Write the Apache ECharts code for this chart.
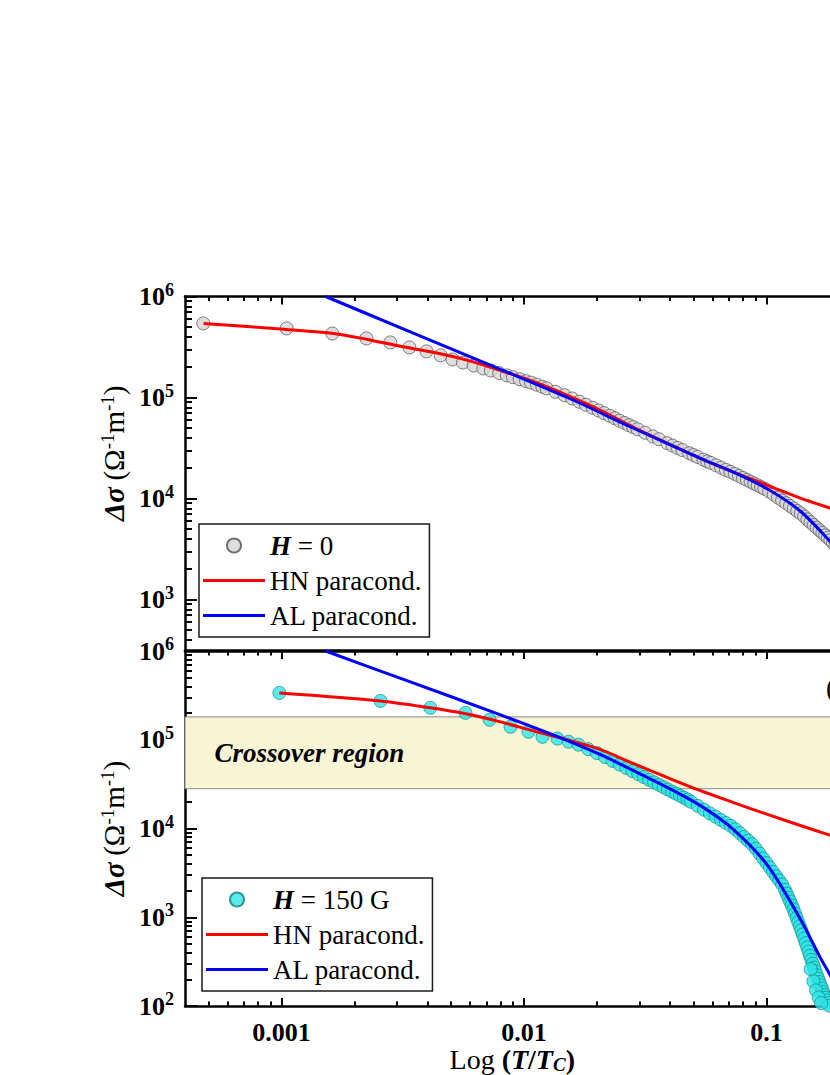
<!DOCTYPE html>
<html><head><meta charset="utf-8">
<script src="https://cdn.jsdelivr.net/npm/echarts@6/dist/echarts.min.js"></script>
<style>html,body{margin:0;padding:0;overflow:hidden;background:#fff}#c{width:900px;height:1075px}</style>
</head><body><div id="c"></div><script>
// ---------- data ----------
// top panel, H = 0
const topDataT = [0.000476,0.00105,0.00162,0.00224,0.00281,0.00337,0.00396,0.00453,0.00507,
 0.0056,0.0062,0.0068,0.0073,0.0079,0.0085,0.009,0.0096,0.0102,0.0107,0.0113,0.0119,0.0124,
 0.0135,0.0147,0.0158,0.0169,0.018,0.0192,0.0203,0.0214,0.0226,0.0237,0.0248,0.026,0.0271,0.0282,0.0294,
 0.0316,0.034,0.036,0.039,0.041,0.043,0.045,0.048,0.05,0.052,0.055,0.057,0.059,
 0.062,0.065,0.068,0.071,0.074,0.077,0.08,0.083,0.086,0.089,0.092,0.095,0.098,
 0.1025,0.107,0.1115,0.116,0.1205,0.125,0.1295,0.134,0.1385,0.143,0.1475,0.152,0.1565,0.161,0.1655,0.17,0.1745,0.179,0.1835,0.188,0.1925,0.197];
const topDataS = [5.41e5,4.83e5,4.30e5,3.85e5,3.51e5,3.13e5,2.86e5,2.61e5,2.38e5,
 2.22e5,2.07e5,1.94e5,1.85e5,1.745e5,1.655e5,1.589e5,1.516e5,1.452e5,1.403e5,1.340e5,1.278e5,1.231e5,
 1.139e5,1.053e5,9.78e4,9.09e4,8.48e4,7.91e4,7.44e4,7.01e4,6.58e4,6.23e4,5.90e4,5.59e4,5.32e4,5.09e4,4.85e4,
 4.47e4,4.12e4,3.86e4,3.53e4,3.34e4,3.17e4,3.02e4,2.81e4,2.69e4,2.58e4,2.42e4,2.33e4,2.25e4,
 2.13e4,2.02e4,1.92e4,1.835e4,1.752e4,1.671e4,1.596e4,1.527e4,1.464e4,1.405e4,1.350e4,1.299e4,1.252e4,
 1.177e4,1.096e4,1.023e4,9.57e3,8.98e3,8.45e3,7.96e3,7.52e3,7.11e3,6.64e3,6.21e3,5.82e3,5.46e3,5.14e3,4.84e3,4.57e3,4.32e3,4.09e3,3.87e3,3.63e3,3.40e3,3.20e3];
const redTopT = [0.000477,0.00105,0.00164,0.00226,0.0031,0.00423,0.00585,0.008,0.0109,0.0151,0.0207,0.0283,0.0391,0.0534,0.0731,0.101,0.138,0.184,0.2];
const redTopS = [5.41e5,4.72e5,4.31e5,3.76e5,3.21e5,2.80e5,2.33e5,1.85e5,1.44e5,1.05e5,7.46e4,5.07e4,3.52e4,2.50e4,1.82e4,1.35e4,1.01e4,8.0e3,7.5e3];
const blueTopT = [0.00152,0.0031,0.008,0.0151,0.0283,0.0534,0.0731,0.101,0.138,0.184,0.2];
const blueTopS = [1e6,4.9e5,1.9e5,1.0e5,4.96e4,2.5e4,1.82e4,1.24e4,7.48e3,3.70e3,2.9e3];
// bottom panel, H = 150 G
const botDataT = [0.00098,0.00256,0.00411,0.00574,0.00721,0.0088,0.01044,0.01192,0.01374,0.01527,0.01678,
 0.0184,0.02,0.0216,0.0232,0.0248,0.0264,0.028,0.0296,0.0312,0.0328,0.0344,0.036,0.0376,0.0392,0.0408,0.0424,0.044,0.0456,0.0472,0.0488,
 0.052,0.0552,0.0584,0.0616,0.0648,0.068,0.0712,0.0744,0.0776,0.0808,0.084,0.0872,0.0904,0.0936,0.0968,0.1,0.1032,0.1064,0.1096,0.1128,0.116,0.1192,
 0.1212,0.1232,0.1252,0.1272,0.1292,0.1312,0.1332,0.1352,0.1372,0.1392,0.1412,0.1432,0.1452,0.1472,0.1492,0.1512,0.1532,0.1552,0.1572,0.1592,0.1612,0.1632,0.1652,0.1672,0.1692,0.1712,0.1732,0.1752,0.1772,0.1792,0.1812,
 0.152,0.156,0.160,0.164,0.168];
const botDataS = [3.37e5,2.74e5,2.29e5,2.01e5,1.68e5,1.40e5,1.23e5,1.08e5,1.03e5,9.5e4,8.8e4,
 7.84e4,7.07e4,6.38e4,5.77e4,5.25e4,4.81e4,4.43e4,4.10e4,3.80e4,3.54e4,3.31e4,3.11e4,2.92e4,2.75e4,2.60e4,2.47e4,2.34e4,2.23e4,2.12e4,2.00e4,
 1.80e4,1.63e4,1.48e4,1.36e4,1.25e4,1.155e4,1.071e4,9.82e3,8.86e3,8.03e3,7.30e3,6.66e3,5.93e3,5.21e3,4.60e3,4.08e3,3.63e3,3.24e3,2.90e3,2.60e3,2.34e3,2.04e3,
 1.84e3,1.66e3,1.50e3,1.36e3,1.23e3,1.10e3,984,881,791,712,641,575,512,458,410,368,331,300,271,246,223,203,186,171,157,144,133,124,116,108,101,
 260,190,150,125,108];
const redBotT = [0.00098,0.00256,0.00411,0.00574,0.008,0.0109,0.0151,0.0207,0.0283,0.0391,0.0534,0.0731,0.101,0.138,0.184,0.2];
const redBotS = [3.37e5,2.74e5,2.29e5,1.96e5,1.59e5,1.26e5,1.0e5,7.73e4,5.37e4,3.74e4,2.67e4,1.96e4,1.44e4,1.08e4,8.34e3,7.72e3];
const blueBotT = [0.00152,0.0031,0.008,0.0151,0.0207,0.0283,0.0391,0.0534,0.0731,0.101,0.138,0.1654,0.184,0.2];
const blueBotS = [1e6,4.91e5,1.91e5,9.8e4,6.78e4,4.48e4,2.89e4,1.81e4,9.74e3,3.84e3,949,365,217,144];
// crossover band limits
const crossover = [1.81e5, 2.81e4];
// ticks
const xMajor = [0.001, 0.01, 0.1];
const xTickLabels = ['0.001', '0.01', '0.1'];
const xMinor = [0.0005,0.0006,0.0007,0.0008,0.0009,0.002,0.003,0.004,0.005,0.006,0.007,0.008,0.009,
                0.02,0.03,0.04,0.05,0.06,0.07,0.08,0.09];
const yTopMajor = [1e3, 1e4, 1e5, 1e6];
const yTopMinor = [400,500,600,700,800,900,2e3,3e3,4e3,5e3,6e3,7e3,8e3,9e3,
                   2e4,3e4,4e4,5e4,6e4,7e4,8e4,9e4,2e5,3e5,4e5,5e5,6e5,7e5,8e5,9e5];
const yBotMajor = [1e2, 1e3, 1e4, 1e5, 1e6];
const yBotMinor = [200,300,400,500,600,700,800,900,2e3,3e3,4e3,5e3,6e3,7e3,8e3,9e3,
                   2e4,3e4,4e4,5e4,6e4,7e4,8e4,9e4,2e5,3e5,4e5,5e5,6e5,7e5,8e5,9e5];
const yTickLabels = {100:'2', 1000:'3', 10000:'4', 100000:'5', 1000000:'6'};

// ---------- chart ----------
const FONT = '"Liberation Serif", "Times New Roman", serif';
const X_MIN = 0.0004, X_MAX = 0.2;
const pair = (t, s) => t.map((v, i) => [v, s[i]]);

const chart = echarts.init(document.getElementById('c'), null, {renderer: 'svg'});

const lineBlk = {color: '#000', width: 2.5};
function xAx(grid, pos, ticks, len, showLine, labels, name) {
  const a = {
    type: 'log', logBase: 10, gridIndex: grid, position: pos, min: X_MIN, max: X_MAX,
    axisLine: {show: showLine, lineStyle: lineBlk},
    axisTick: ticks ? {show: true, inside: true, length: len, customValues: ticks, lineStyle: {color: '#000', width: 2}} : {show: false},
    axisLabel: {show: false},
    splitLine: {show: false}, minorTick: {show: false}, minorSplitLine: {show: false}
  };
  if (labels) {
    a.axisLabel = {
      show: true, customValues: xMajor, margin: 13,
      formatter: v => xTickLabels[xMajor.indexOf(v)] ?? '',
      fontFamily: FONT, fontWeight: 'bold', fontSize: 26, color: '#000'
    };
  }
  if (name) {
    a.name = '{r|Log }{b|(}{bi|T}{b|/}{bi|T}{sub|C}{b|)}';
    a.nameLocation = 'middle';
    a.nameGap = 29;
    a.nameTextStyle = {
      rich: {
        r: {fontFamily: FONT, fontSize: 28, lineHeight: 29, color: '#000'},
        b: {fontFamily: FONT, fontSize: 28, fontWeight: 'bold', lineHeight: 29, color: '#000'},
        bi: {fontFamily: FONT, fontSize: 28, fontWeight: 'bold', fontStyle: 'italic', lineHeight: 29, color: '#000'},
        sub: {fontFamily: FONT, fontSize: 19, fontWeight: 'bold', fontStyle: 'italic', lineHeight: 17, verticalAlign: 'bottom', color: '#000'}
      }
    };
  }
  return a;
}
function yAx(grid, min, ticks, len, major, namePad) {
  const a = {
    type: 'log', logBase: 10, gridIndex: grid, position: 'left', min: min, max: 1e6,
    axisLine: {show: major, lineStyle: lineBlk},
    axisTick: {show: true, inside: true, length: len, customValues: ticks, lineStyle: {color: '#000', width: 2}},
    axisLabel: {show: false},
    splitLine: {show: false}, minorTick: {show: false}, minorSplitLine: {show: false}
  };
  if (major) {
    a.axisLabel = {
      show: true, customValues: ticks, margin: 11,
      formatter: v => '{b|10}{s|' + (yTickLabels[Math.round(v)] ?? '') + '}',
      rich: {
        b: {fontFamily: FONT, fontWeight: 'bold', fontSize: 26, lineHeight: 32, color: '#000'},
        s: {fontFamily: FONT, fontWeight: 'bold', fontSize: 18, lineHeight: 18, verticalAlign: 'top', color: '#000'}
      }
    };
    a.name = '{bi|Δσ}  {r|(Ω}{s|-1}{r|m}{s|-1}{r|)}';
    a.nameLocation = 'middle';
    a.nameGap = 50;
    a.nameTextStyle = {
      padding: namePad,
      rich: {
        bi: {fontFamily: FONT, fontSize: 29, fontWeight: 'bold', fontStyle: 'italic', lineHeight: 32, color: '#000'},
        r: {fontFamily: FONT, fontSize: 29, lineHeight: 32, color: '#000'},
        s: {fontFamily: FONT, fontSize: 19, lineHeight: 18, verticalAlign: 'top', color: '#000'}
      }
    };
  }
  return a;
}

const legendText = {
  fontFamily: FONT, fontSize: 27, lineHeight: 26, color: '#000',
  rich: {hb: {fontFamily: FONT, fontSize: 27, lineHeight: 26, fontWeight: 'bold', fontStyle: 'italic', color: '#000'}}
};
const legendFmt = n => n.startsWith('H = ') ? '{hb|H} = ' + n.slice(4) : n;
const LINE_ICON = 'path://M0,0H62V3H0Z';
function legend(left, top, first) {
  return {
    left: left, top: top, orient: 'vertical', selectedMode: false,
    data: [{name: first, icon: 'circle'},
           {name: 'HN paracond.', icon: LINE_ICON},
           {name: 'AL paracond.', icon: LINE_ICON}],
    itemWidth: 62, itemHeight: 14, itemGap: 8,
    padding: [8, 8, 8, 4], borderColor: '#1a1a1a', borderWidth: 1.5, backgroundColor: '#fff',
    textStyle: legendText, formatter: legendFmt
  };
}

const grayStyle = {color: '#d6d6d6', borderColor: '#505050', borderWidth: 0.9};
const cyanStyle = {color: '#2ee6e6', borderColor: '#127a7a', borderWidth: 0.8};
const redLine = {color: '#ff0000', width: 3};
const blueLine = {color: '#0000ff', width: 3};

const option = {
  animation: false,
  backgroundColor: '#fff',
  grid: [
    {left: 185, top: 296.5, width: 654.5, height: 353.5, outerBoundsMode: 'none'},
    {left: 185, top: 651, width: 654.5, height: 355, outerBoundsMode: 'none'}
  ],
  xAxis: [
    xAx(0, 'bottom', null, 0, true, false, false),
    xAx(0, 'top', xMajor, 8, true, false, false),
    xAx(0, 'top', xMinor, 4.5, false, false, false),
    xAx(1, 'bottom', xMajor, 8, true, true, true),
    xAx(1, 'bottom', xMinor, 4.5, false, false, false),
    xAx(1, 'top', xMajor, 8, true, false, false),
    xAx(1, 'top', xMinor, 4.5, false, false, false)
  ],
  yAxis: [
    yAx(0, 316.2278, yTopMajor, 12, true, [0, 0, 0, 40]),
    yAx(0, 316.2278, yTopMinor, 7, false),
    yAx(1, 100, yBotMajor, 12, true, [0, 0, 0, 0]),
    yAx(1, 100, yBotMinor, 7, false)
  ],
  legend: [legend(199, 524, 'H = 0'), legend(202, 878, 'H = 150 G')],
  graphic: [{type: 'text', left: 826, top: 674, style: {text: '(b)', font: '27px ' + FONT, fill: '#000'}}],
  series: [
    {type: 'scatter', name: 'H = 0', xAxisIndex: 0, yAxisIndex: 0, z: 2,
     symbol: 'circle', symbolSize: 13, itemStyle: grayStyle, data: pair(topDataT, topDataS)},
    {type: 'line', name: 'HN paracond.', xAxisIndex: 0, yAxisIndex: 0, z: 3, symbol: 'none',
     smooth: 0.3, lineStyle: redLine, itemStyle: {color: '#ff0000'}, data: pair(redTopT, redTopS)},
    {type: 'line', name: 'AL paracond.', xAxisIndex: 0, yAxisIndex: 0, z: 4, symbol: 'none',
     smooth: 0.3, lineStyle: blueLine, itemStyle: {color: '#0000ff'}, data: pair(blueTopT, blueTopS)},
    {type: 'line', xAxisIndex: 3, yAxisIndex: 2, z: 1, data: [],
     markArea: {silent: true,
       itemStyle: {color: '#f8f5d5', borderColor: '#8a8a8a', borderWidth: 1},
       label: {show: true, position: 'insideLeft', distance: 30, fontFamily: FONT, fontStyle: 'italic',
               fontWeight: 'bold', fontSize: 27, color: '#000'},
       data: [[{name: 'Crossover region', yAxis: crossover[0]}, {yAxis: crossover[1]}]]}},
    {type: 'scatter', name: 'H = 150 G', xAxisIndex: 3, yAxisIndex: 2, z: 2,
     symbol: 'circle', symbolSize: 13, itemStyle: cyanStyle, data: pair(botDataT, botDataS)},
    {type: 'line', name: 'HN paracond.', xAxisIndex: 3, yAxisIndex: 2, z: 3, symbol: 'none',
     smooth: 0.3, lineStyle: redLine, itemStyle: {color: '#ff0000'}, data: pair(redBotT, redBotS)},
    {type: 'line', name: 'AL paracond.', xAxisIndex: 3, yAxisIndex: 2, z: 4, symbol: 'none',
     smooth: 0.3, lineStyle: blueLine, itemStyle: {color: '#0000ff'}, data: pair(blueBotT, blueBotS)}
  ]
};
chart.setOption(option);
</script></body></html>
